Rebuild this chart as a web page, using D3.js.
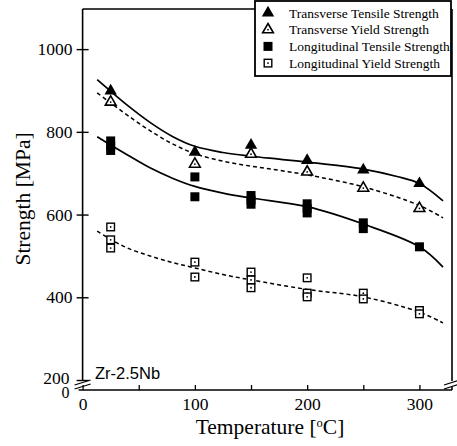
<!DOCTYPE html>
<html>
<head>
<meta charset="utf-8">
<script src="https://cdn.jsdelivr.net/npm/d3@7/dist/d3.min.js"></script>
<style>
  html, body { margin: 0; padding: 0; background: #fff; }
  svg { display: block; }
</style>
</head>
<body>
<svg id="chart" width="457" height="446"></svg>
<script>
// ---------------- DATA ----------------
const seriesNames = [
  "Transverse Tensile Strength",
  "Transverse Yield Strength",
  "Longitudinal Tensile Strength",
  "Longitudinal Yield Strength"
];
const xTickLabels = [0, 100, 200, 300];
const xMinorTicks = [0, 50, 100, 150, 200, 250, 300];
const yTickLabels = [0, 200, 400, 600, 800, 1000];

// measured points [temperature °C, strength MPa]
const transTensile = [[25, 899], [100, 751], [150, 768], [200, 731], [250, 708], [300, 675]];
const transYield = [[25, 872], [100, 722], [150, 746], [200, 703], [250, 664], [300, 615]];
const longTensile = [[25, 778], [25, 766], [25, 755], [100, 691], [100, 643],
  [150, 646], [150, 635], [150, 625], [200, 626], [200, 615], [200, 604],
  [250, 580], [250, 566], [300, 522]];
const longYield = [[25, 570], [25, 539], [25, 519], [100, 485], [100, 449],
  [150, 461], [150, 442], [150, 423], [200, 447], [200, 410], [200, 401],
  [250, 410], [250, 396], [300, 368], [300, 360]];

// fitted curves
const transTensileFit = [[13, 926], [25, 898], [40, 864], [60, 823], [80, 789], [100, 765], [125, 750], [150, 741], [175, 734], [200, 727], [250, 710], [280, 692], [300, 675], [321, 633]];
const transYieldFit = [[13, 894], [25, 870], [40, 840], [60, 803], [80, 771], [100, 747], [125, 729], [150, 717], [175, 707], [200, 696], [250, 667], [300, 622], [321, 592]];
const longTensileFit = [[13, 788], [25, 768], [40, 744], [60, 713], [80, 688], [100, 668], [125, 652], [150, 640], [200, 619], [250, 577], [300, 522], [321, 473]];
const longYieldFit = [[13, 560], [25, 540], [40, 519], [60, 500], [80, 484], [100, 471], [125, 455], [150, 442], [200, 419], [250, 401], [300, 364], [321, 338]];

// ---------------- CHART ----------------
const svg = d3.select("#chart");
const serif = "'Liberation Serif', 'Times New Roman', serif";
const L = 82.6, R = 452, T = 9, B = 390;

const x = d3.scaleLinear().domain([0, 329]).range([L, R]);
const y = d3.scaleLinear().domain([0, 200, 1097]).range([B, 380, T]);

// frame
const frame = svg.append("g").attr("stroke", "#000").attr("stroke-width", 1.6).attr("fill", "none");
frame.append("line").attr("x1", L).attr("x2", L).attr("y1", T).attr("y2", y(200) + 1);
frame.append("line").attr("x1", R).attr("x2", R).attr("y1", T).attr("y2", y(200) + 1);
frame.append("line").attr("x1", L).attr("x2", R).attr("y1", T).attr("y2", T);
frame.append("line").attr("x1", L - 4).attr("x2", R).attr("y1", B).attr("y2", B);
frame.append("line").attr("x1", R).attr("x2", R).attr("y1", B - 3).attr("y2", B);

// axis breaks
[L, R].forEach(xx => {
  [382.5, 386.5].forEach(yy => {
    svg.append("line").attr("x1", xx - 8).attr("y1", yy + 2.5)
      .attr("x2", xx + 8).attr("y2", yy - 2.5)
      .attr("stroke", "#000").attr("stroke-width", 1.3);
  });
});

// y axis
const yAxis = svg.append("g").attr("transform", `translate(${L},0)`)
  .call(d3.axisLeft(y).tickValues(yTickLabels).tickSize(6).tickPadding(4).tickFormat(d3.format("d")));
yAxis.select(".domain").remove();
yAxis.selectAll(".tick line").attr("x1", -6).attr("x2", 6).attr("stroke-width", 1.4);
yAxis.selectAll(".tick").filter(d => d === 0).select("line").remove();
yAxis.selectAll(".tick text").attr("font-family", serif).attr("font-size", 17.5).attr("fill", "#000");
yAxis.selectAll(".tick").filter(d => d === 200).select("text").attr("dx", -3).attr("dy", "0.2em");
yAxis.selectAll(".tick").filter(d => d === 0).select("text").attr("dx", -3).attr("dy", "0.45em").attr("font-size", 16);

// x axis
const xAxis = svg.append("g").attr("transform", `translate(0,${B})`)
  .call(d3.axisBottom(x).tickValues(xMinorTicks).tickSize(0).tickPadding(8)
    .tickFormat(d => xTickLabels.includes(d) ? d : ""));
xAxis.select(".domain").remove();
xAxis.selectAll(".tick line").attr("y1", 0).attr("y2", -5).attr("stroke-width", 1.3);
xAxis.selectAll(".tick text").attr("font-family", serif).attr("font-size", 17.5).attr("fill", "#000");

// axis titles
svg.append("text").attr("x", 270).attr("y", 434).attr("text-anchor", "middle")
  .attr("font-family", serif).attr("font-size", 21.5)
  .html('Temperature [<tspan dy="-7" font-size="12.5">o</tspan><tspan dy="7">C]</tspan>');
svg.append("text").attr("transform", "translate(30,199) rotate(-90)").attr("text-anchor", "middle")
  .attr("font-family", serif).attr("font-size", 21.5).text("Strength [MPa]");

// annotation
svg.append("text").attr("x", 95).attr("y", 379)
  .attr("font-family", "'Liberation Sans', Arial, sans-serif").attr("font-size", 16.5)
  .text("Zr-2.5Nb");

// fit curves
const line = d3.line().x(d => x(d[0])).y(d => y(d[1])).curve(d3.curveCatmullRom.alpha(0.5));
const fits = [
  { data: transTensileFit, dash: null },
  { data: transYieldFit, dash: "4,3" },
  { data: longTensileFit, dash: null },
  { data: longYieldFit, dash: "4,3" }
];
fits.forEach(f => {
  svg.append("path").datum(f.data).attr("d", line)
    .attr("fill", "none").attr("stroke", "#000")
    .attr("stroke-width", f.dash ? 1.5 : 1.7)
    .attr("stroke-dasharray", f.dash);
});

// markers
const triPath = d3.symbol().type(d3.symbolTriangle).size(66)();
const triOpenPath = d3.symbol().type(d3.symbolTriangle).size(50)();
function drawMarker(g, type, cx, cy) {
  const m = g.append("g").attr("transform", `translate(${cx},${cy})`);
  if (type === 0) {
    m.append("path").attr("d", triPath).attr("fill", "#000");
  } else if (type === 1) {
    m.append("path").attr("d", triOpenPath).attr("fill", "#fff").attr("stroke", "#000").attr("stroke-width", 1.6);
    m.append("circle").attr("r", 0.9).attr("fill", "#000");
  } else if (type === 2) {
    m.append("rect").attr("x", -4.5).attr("y", -4.5).attr("width", 9).attr("height", 9).attr("fill", "#000");
  } else {
    m.append("rect").attr("x", -3.8).attr("y", -3.8).attr("width", 7.6).attr("height", 7.6)
      .attr("fill", "#fff").attr("stroke", "#000").attr("stroke-width", 1.4);
    m.append("circle").attr("r", 0.9).attr("fill", "#000");
  }
}
const pts = svg.append("g");
[[longYield, 3], [longTensile, 2], [transYield, 1], [transTensile, 0]].forEach(([data, type]) => {
  data.forEach(d => drawMarker(pts, type, x(d[0]), y(d[1])));
});

// legend
const lg = svg.append("g");
lg.append("rect").attr("x", 255).attr("y", 1).attr("width", 196).attr("height", 75)
  .attr("fill", "#fff").attr("stroke", "#000").attr("stroke-width", 1.8);
seriesNames.forEach((name, i) => {
  const yy = 13 + i * 16.7;
  drawMarker(lg, i, 268, yy);
  lg.append("text").attr("x", 289).attr("y", yy + 4.5)
    .attr("font-family", serif).attr("font-size", 13.5).text(name);
});
</script>
</body>
</html>
